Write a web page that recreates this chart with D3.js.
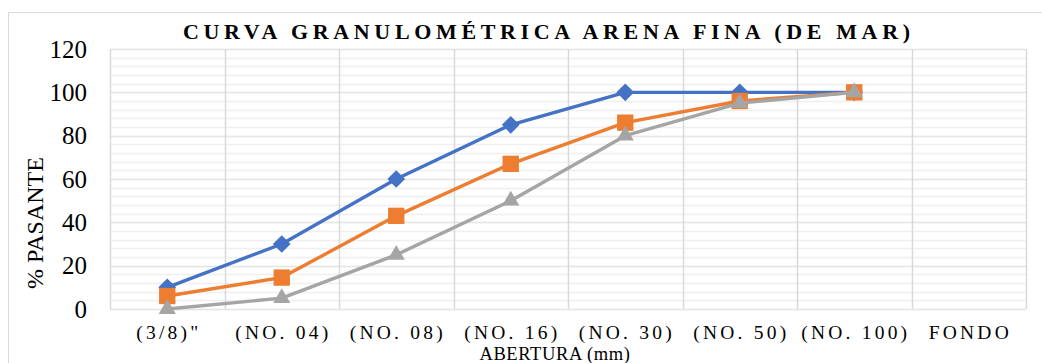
<!DOCTYPE html>
<html>
<head>
<meta charset="utf-8">
<title>Curva granulometrica</title>
<style>
  body { margin: 0; background: #fff; }
</style>
</head>
<body>
<script src="https://d3js.org/d3.v7.min.js"></script>
<script>
// categories and series
var categories = ['(3/8)"', "(NO. 04)", "(NO. 08)", "(NO. 16)", "(NO. 30)", "(NO. 50)", "(NO. 100)", "FONDO"];
var serieAzul = [10, 30, 60, 85, 100, 100, 100];
var serieNaranja = [6, 14.5, 43, 67, 86, 96, 100];
var serieGris = [0, 5, 25, 50, 80, 95, 100];
var yTicks = [0, 20, 40, 60, 80, 100, 120];

const W = 1042, H = 363;
const plot = { left: 110, right: 1026, top: 49, bottom: 309 };
const FONT = "Liberation Serif";

const svg = d3.select("body").append("svg")
    .attr("width", W)
    .attr("height", H)
    .attr("font-family", FONT);

// chart frame
svg.append("rect")
    .attr("x", 8.5).attr("y", 12.5)
    .attr("width", W).attr("height", H)
    .attr("fill", "#fff")
    .attr("stroke", "#d9d9d9");

var x = d3.scaleBand()
    .domain(categories)
    .range([plot.left, plot.right])
    .padding(0);

var y = d3.scaleLinear()
    .domain([0, 120])
    .range([plot.bottom, plot.top]);

// minor horizontal gridlines every 4
var g = svg.append("g");
g.selectAll(".minor")
    .data(d3.range(0, 121, 4))
    .enter().append("line")
    .attr("x1", plot.left).attr("x2", plot.right)
    .attr("y1", d => Math.round(y(d)) + 0.5)
    .attr("y2", d => Math.round(y(d)) + 0.5)
    .attr("stroke", "#efefef")
    .attr("stroke-width", 1.5);

// major horizontal gridlines
g.selectAll(".major")
    .data(yTicks)
    .enter().append("line")
    .attr("x1", plot.left).attr("x2", plot.right)
    .attr("y1", d => Math.round(y(d)) + 0.5)
    .attr("y2", d => Math.round(y(d)) + 0.5)
    .attr("stroke", "#e6e6e6")
    .attr("stroke-width", 1.5);

// vertical gridlines at band edges
var edges = categories.map(c => x(c)).concat([plot.right]);
g.selectAll(".vgrid")
    .data(edges)
    .enter().append("line")
    .attr("x1", d => Math.round(d) + 0.5).attr("x2", d => Math.round(d) + 0.5)
    .attr("y1", plot.top).attr("y2", plot.bottom)
    .attr("stroke", "#d9d9d9")
    .attr("stroke-width", 1.5);

// y tick labels
svg.selectAll(".ylab")
    .data(yTicks)
    .enter().append("text")
    .attr("x", 87)
    .attr("y", d => y(d))
    .attr("dy", "0.34em")
    .attr("text-anchor", "end")
    .attr("font-size", 25)
    .text(d => d);

// x tick labels (letter-spaced)
var ls = 3.2;
svg.selectAll(".xlab")
    .data(categories)
    .enter().append("text")
    .attr("x", d => x(d) + x.bandwidth() / 2 + ls / 2)
    .attr("y", 339)
    .attr("text-anchor", "middle")
    .attr("font-size", 19.5)
    .attr("letter-spacing", ls)
    .text(d => d);

// titles
svg.append("text")
    .attr("x", 183).attr("y", 39)
    .attr("textLength", 727)
    .attr("lengthAdjust", "spacing")
    .attr("font-size", 22)
    .attr("font-weight", "bold")
    .text("CURVA GRANULOMÉTRICA ARENA FINA (DE MAR)");

svg.append("text")
    .attr("transform", "translate(43,223) rotate(-90)")
    .attr("text-anchor", "middle")
    .attr("font-size", 24)
    .text("% PASANTE");

svg.append("text")
    .attr("x", 555).attr("y", 360)
    .attr("text-anchor", "middle")
    .attr("font-size", 18.5)
    .attr("letter-spacing", 0.6)
    .text("ABERTURA (mm)");

// series
var series = [
  { name: "azul", values: serieAzul, color: "#4472c4", symbol: d3.symbolDiamond2, size: 200 },
  { name: "naranja", values: serieNaranja, color: "#ed7d31", symbol: d3.symbolSquare2, size: 340 },
  { name: "gris", values: serieGris, color: "#a5a5a5", symbol: d3.symbolTriangle2, size: 210 }
];

var line = d3.line()
    .x((d, i) => x(categories[i]) + x.bandwidth() / 2)
    .y(d => y(d));

series.forEach(function(s) {
  var sg = svg.append("g");
  sg.append("path")
    .datum(s.values)
    .attr("d", line)
    .attr("fill", "none")
    .attr("stroke", s.color)
    .attr("stroke-width", 3.4)
    .attr("stroke-linejoin", "round");
  sg.selectAll("path.m")
    .data(s.values)
    .enter().append("path")
    .attr("class", "m")
    .attr("transform", (d, i) => "translate(" + (x(categories[i]) + x.bandwidth() / 2) + "," + y(d) + ")")
    .attr("d", d3.symbol().type(s.symbol).size(s.size))
    .attr("fill", s.color);
});
</script>
</body>
</html>
